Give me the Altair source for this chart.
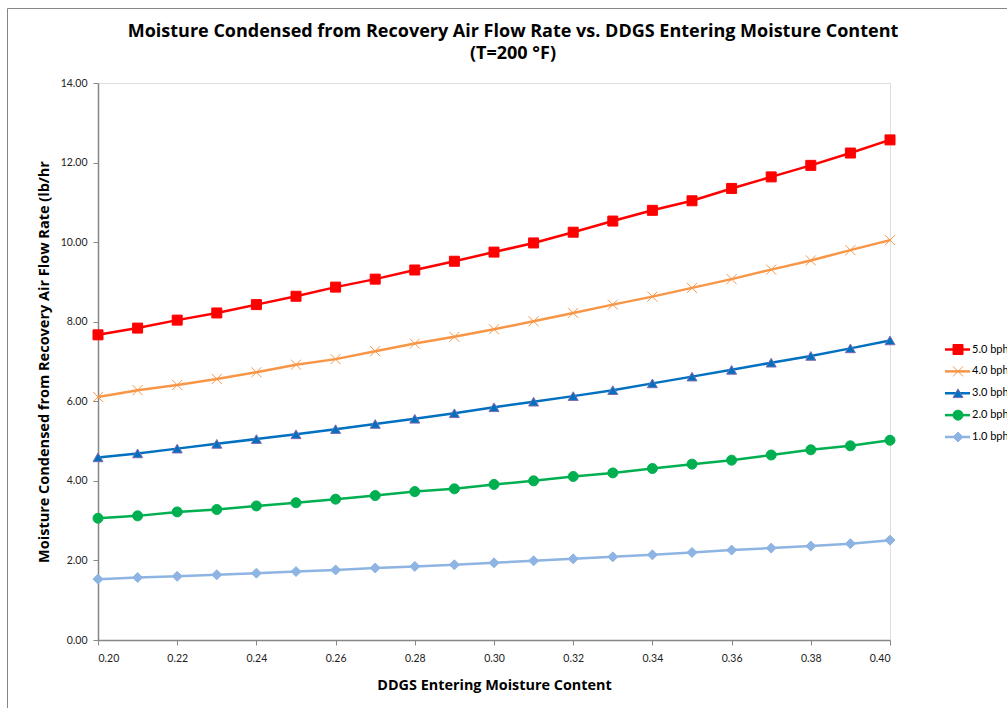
import altair as alt
import pandas as pd

# ---------------- data ----------------
x_vals = [0.20, 0.21, 0.22, 0.23, 0.24, 0.25, 0.26, 0.27, 0.28, 0.29, 0.30,
          0.31, 0.32, 0.33, 0.34, 0.35, 0.36, 0.37, 0.38, 0.39, 0.40]
series_names = ["5.0 bph", "4.0 bph", "3.0 bph", "2.0 bph", "1.0 bph"]
bph5 = [7.67, 7.84, 8.04, 8.22, 8.43, 8.64, 8.87, 9.07, 9.30, 9.52, 9.75,
        9.98, 10.25, 10.53, 10.80, 11.04, 11.35, 11.64, 11.93, 12.24, 12.57]
bph4 = [6.11, 6.28, 6.41, 6.56, 6.73, 6.92, 7.06, 7.26, 7.45, 7.62, 7.81,
        8.01, 8.22, 8.43, 8.63, 8.85, 9.07, 9.31, 9.54, 9.80, 10.05]
bph3 = [4.59, 4.69, 4.81, 4.93, 5.05, 5.17, 5.30, 5.43, 5.56, 5.70, 5.85,
        5.99, 6.13, 6.28, 6.45, 6.62, 6.79, 6.97, 7.14, 7.33, 7.53]
bph2 = [3.06, 3.12, 3.22, 3.28, 3.37, 3.45, 3.54, 3.63, 3.73, 3.80, 3.91,
        4.00, 4.11, 4.20, 4.31, 4.42, 4.52, 4.65, 4.78, 4.88, 5.02]
bph1 = [1.53, 1.57, 1.60, 1.64, 1.68, 1.72, 1.76, 1.81, 1.85, 1.89, 1.94,
        1.99, 2.04, 2.09, 2.14, 2.20, 2.26, 2.31, 2.36, 2.42, 2.51]
x_ticks = [0.20, 0.22, 0.24, 0.26, 0.28, 0.30, 0.32, 0.34, 0.36, 0.38, 0.40]
y_ticks = [0, 2, 4, 6, 8, 10, 12, 14]

title_lines = ["Moisture Condensed from Recovery Air Flow Rate vs. DDGS Entering Moisture Content",
               "(T=200 \u00b0F)"]
x_title = "DDGS Entering Moisture Content"
y_title = "Moisture Condensed from Recovery Air Flow Rate (lb/hr"

rows = []
for name, vals in zip(series_names, [bph5, bph4, bph3, bph2, bph1]):
    for xv, yv in zip(x_vals, vals):
        rows.append({"x": xv, "y": yv, "series": name})
df = pd.DataFrame(rows)
leg_df = pd.DataFrame({"series": series_names})

# ---------------- styles ----------------
line_colors = ["#FF0000", "#F79646", "#0070C0", "#00B050", "#8DB4E2"]
marker_strokes = ["#FF0000", "#F79646", "#7F6CB0", "#00B050", "#8DB4E2"]
shapes = ["square", "M-1,-1L1,1M-1,1L1,-1", "triangle-up", "circle", "diamond"]
sizes = [100, 100, 121, 100, 72]

FONT = "Lato"
TFONT = "Open Sans"
AX = "#868686"

x_enc = alt.X("x:Q",
              scale=alt.Scale(domain=[0.2, 0.4], nice=False, zero=False),
              axis=alt.Axis(values=x_ticks, format=".2f", title=x_title,
                            grid=False, domainColor=AX, domainWidth=1.5,
                            tickColor=AX, tickSize=5, labelPadding=8,
                            labelFont=FONT, labelFontSize=10.5, labelColor="#222222",
                            titleFont=TFONT, titleFontSize=14.4, titleFontWeight="bold",
                            titleColor="#000000", titlePadding=15))
y_enc = alt.Y("y:Q",
              scale=alt.Scale(domain=[0, 14], nice=False),
              axis=alt.Axis(values=y_ticks, format=".2f", title=y_title,
                            grid=False, domainColor=AX, domainWidth=1.5,
                            tickColor=AX, tickSize=5, labelPadding=6,
                            labelFont=FONT, labelFontSize=10.5, labelColor="#222222",
                            titleFont=TFONT, titleFontSize=14.5, titleFontWeight="bold",
                            titleColor="#000000", titlePadding=9))

color_enc = alt.Color("series:N", scale=alt.Scale(domain=series_names, range=line_colors), legend=None)
stroke_enc = alt.Stroke("series:N", scale=alt.Scale(domain=series_names, range=marker_strokes), legend=None)
shape_enc = alt.Shape("series:N", scale=alt.Scale(domain=series_names, range=shapes), legend=None)
size_enc = alt.Size("series:N", scale=alt.Scale(domain=series_names, range=sizes), legend=None)

lines = alt.Chart(df).mark_line(strokeWidth=2.5).encode(
    x=x_enc, y=y_enc, color=color_enc, detail="series:N")

points = alt.Chart(df).mark_point(filled=True, opacity=1, strokeWidth=1).encode(
    x=x_enc, y=y_enc, color=color_enc, stroke=stroke_enc, shape=shape_enc, size=size_enc)

border = alt.Chart(pd.DataFrame({"b": [0]})).mark_rect(
    fill="transparent", stroke="#868686", strokeWidth=1).encode(
    x=alt.value(-90.5), x2=alt.value(1000), y=alt.value(-74.5), y2=alt.value(700))

main = alt.layer(border, lines, points)

# ---------------- manual legend (line + marker + label) ----------------
leg_y = alt.Y("series:N", scale=alt.Scale(type="point", domain=series_names,
                                         range=[266.5, 354], padding=0), axis=None)
leg_lines = alt.Chart(leg_df).mark_rule(strokeWidth=2.5).encode(
    y=leg_y, x=alt.value(847), x2=alt.value(872), color=color_enc)
leg_pts = alt.Chart(leg_df).mark_point(filled=True, opacity=1, strokeWidth=1).encode(
    y=leg_y, x=alt.value(860), color=color_enc, stroke=stroke_enc, shape=shape_enc, size=size_enc)
leg_text = alt.Chart(leg_df).mark_text(align="left", baseline="middle", font=FONT,
                                       fontSize=11, color="#000000").encode(
    y=leg_y, x=alt.value(874), text="series:N")
legend = alt.layer(leg_lines, leg_pts, leg_text)

chart = alt.layer(main, legend).resolve_scale(y="independent").properties(
    width=792, height=557,
    title=alt.TitleParams(text=title_lines, font=TFONT, fontSize=18, fontWeight="bold",
                          color="#000000", anchor="middle", frame="group", dx=19,
                          lineHeight=22.5, offset=-55),
    autosize=alt.AutoSizeParams(type="none"),
    padding={"left": 98, "top": 83, "right": 117, "bottom": 68},
).configure_view(stroke=None).configure(background="white")

chart.save("out.html", embed_options={"renderer": "svg", "actions": False})
